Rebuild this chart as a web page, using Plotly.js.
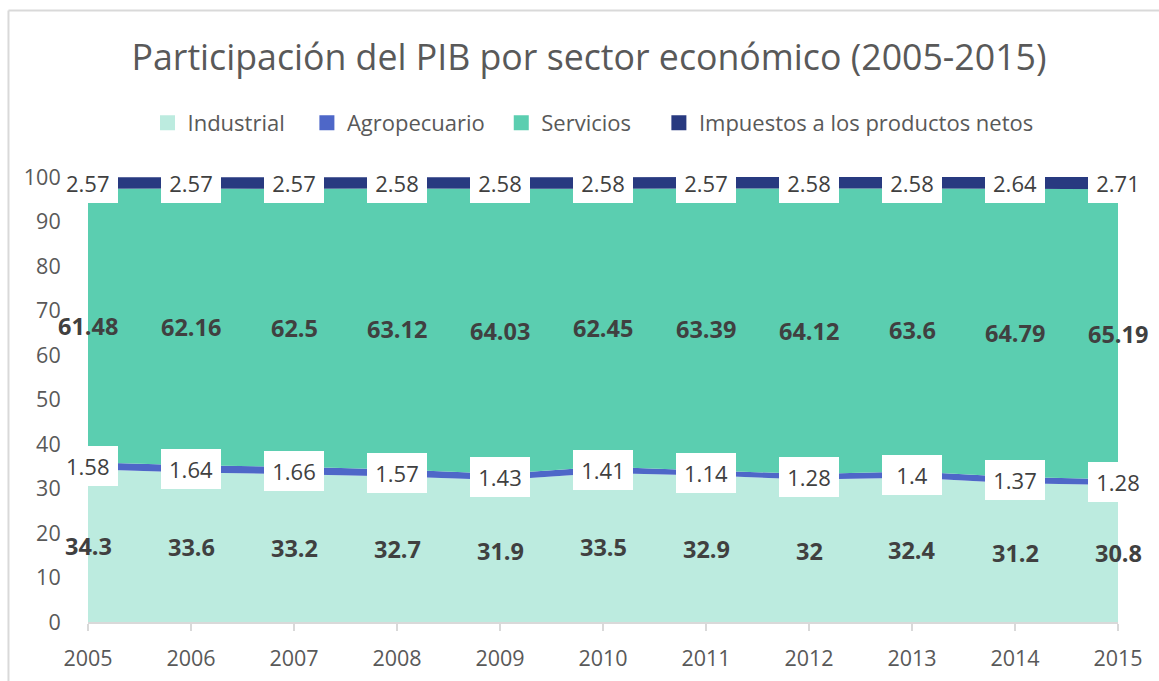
<!DOCTYPE html>
<html>
<head>
<meta charset="utf-8">
<script src="https://cdn.plot.ly/plotly-3.0.1.min.js"></script>
<style>
html,body{margin:0;padding:0;background:#fff;}
#chart{width:1159px;height:681px;}
</style>
</head>
<body>
<div id="chart"></div>
<script>
const years = [2005, 2006, 2007, 2008, 2009, 2010, 2011, 2012, 2013, 2014, 2015];
const industrial = [34.3, 33.6, 33.2, 32.7, 31.9, 33.5, 32.9, 32, 32.4, 31.2, 30.8];
const agropecuario = [1.58, 1.64, 1.66, 1.57, 1.43, 1.41, 1.14, 1.28, 1.4, 1.37, 1.28];
const servicios = [61.48, 62.16, 62.5, 63.12, 64.03, 62.45, 63.39, 64.12, 63.6, 64.79, 65.19];
const impuestos = [2.57, 2.57, 2.57, 2.58, 2.58, 2.58, 2.57, 2.58, 2.58, 2.64, 2.71];
const yTicks = [0, 10, 20, 30, 40, 50, 60, 70, 80, 90, 100];

const seriesNames = ['Industrial', 'Agropecuario', 'Servicios', 'Impuestos a los productos netos'];
const seriesColors = ['#BCEBDF', '#4E67C8', '#5BCEB0', '#283A80'];
const seriesData = [industrial, agropecuario, servicios, impuestos];

const FONT = 'Open Sans, Noto Sans, sans-serif';
const GREY = '#595959';
const LABEL = '#404040';
const PADS = ['\u00a0\u00a0\u00a0', '\u00a0\u00a0', '\u00a0\u00a0\u00a0\u00a0', ''];

const traces = seriesData.map((vals, i) => ({
  type: 'scatter',
  mode: 'none',
  x: years,
  y: vals,
  name: seriesNames[i],
  stackgroup: 'one',
  fillcolor: seriesColors[i],
  line: {width: 0},
  showlegend: false,
  hoverinfo: 'x+y+name'
}));

// legend entries (square swatches)
seriesNames.forEach((nm, i) => {
  traces.push({
    type: 'scatter', mode: 'markers', x: [null], y: [null],
    name: nm + PADS[i],
    marker: {symbol: 'square', size: 15, color: seriesColors[i], line: {width: 0}},
    showlegend: true, hoverinfo: 'skip'
  });
});

// Data labels at centre of each stacked band
const boxes = [];
const texts = [];
years.forEach((yr, j) => {
  let base = 0;
  seriesData.forEach((vals, i) => {
    const v = vals[j];
    const mid = base + v / 2;
    base += v;
    const bold = (i === 0 || i === 2);
    const boxed = (i === 1 || i === 3);
    const a = {
      x: yr, y: mid, xref: 'x', yref: 'y',
      text: bold ? '<b>' + v + '</b>' : String(v),
      showarrow: false,
      font: {family: FONT, size: bold ? 23.5 : 22, color: LABEL},
      xanchor: 'center', yanchor: 'middle'
    };
    if (boxed) {
      if (j === 0) {
        boxes.push({
          x: yr, y: mid, xref: 'x', yref: 'y', text: ' ', showarrow: false,
          xanchor: 'left', yanchor: 'middle', bgcolor: '#FFFFFF',
          width: 30, height: 40, borderpad: 0, borderwidth: 0
        });
      } else {
        a.bgcolor = '#FFFFFF';
        a.width = 60; a.height = 40; a.borderpad = 0; a.borderwidth = 0;
      }
    }
    texts.push(a);
  });
});

const annotations = boxes.concat(texts);

// Cut-off heading above the chart frame
annotations.push({
  xref: 'paper', yref: 'paper', x: 0.1893, y: 1.397,
  xanchor: 'right', yanchor: 'bottom', showarrow: false,
  text: '<b>anual de 2005 a 2015</b>',
  font: {family: FONT, size: 22, color: '#000000'}
});

const layout = {
  width: 1159, height: 681,
  margin: {l: 88, r: 41, t: 177, b: 59},
  paper_bgcolor: '#FFFFFF', plot_bgcolor: '#FFFFFF',
  font: {family: FONT, color: GREY},
  title: {
    text: 'Participación del PIB por sector económico (2005-2015)',
    font: {family: FONT, size: 35.7, color: GREY},
    xref: 'container', x: 0.5082, xanchor: 'center', y: 0.915, yanchor: 'middle'
  },
  showlegend: true,
  legend: {
    orientation: 'h', x: 0.4903, xanchor: 'center', y: 1.1213, yanchor: 'middle',
    font: {family: FONT, size: 22, color: GREY},
    itemwidth: 30, traceorder: 'normal', bgcolor: 'rgba(0,0,0,0)'
  },
  xaxis: {
    range: [2005, 2015], tickmode: 'array', tickvals: years, ticktext: years.map(String),
    showgrid: false, zeroline: false,
    showline: true, linecolor: '#D9D9D9', linewidth: 2,
    ticks: 'outside', ticklen: 7, tickcolor: '#D9D9D9', tickwidth: 2,
    ticklabelstandoff: 9,
    tickfont: {family: FONT, size: 21.5, color: GREY}, fixedrange: true
  },
  yaxis: {
    range: [0, 100], tickmode: 'array', tickvals: yTicks,
    showgrid: false, zeroline: false, showline: false,
    ticks: 'outside', ticklen: 22, tickcolor: 'rgba(0,0,0,0)',
    tickfont: {family: FONT, size: 21.5, color: GREY}, fixedrange: true
  },
  annotations: annotations,
  shapes: [
    {type: 'line', xref: 'paper', yref: 'paper', x0: -0.0772, x1: -0.0772, y0: 1.3742, y1: -0.2,
     line: {color: '#D9D9D9', width: 2}},
    {type: 'line', xref: 'paper', yref: 'paper', x0: -0.0772, x1: 1.1, y0: 1.3742, y1: 1.3742,
     line: {color: '#D9D9D9', width: 2}}
  ]
};

Plotly.newPlot('chart', traces, layout, {displayModeBar: false, staticPlot: true});
</script>
</body>
</html>
